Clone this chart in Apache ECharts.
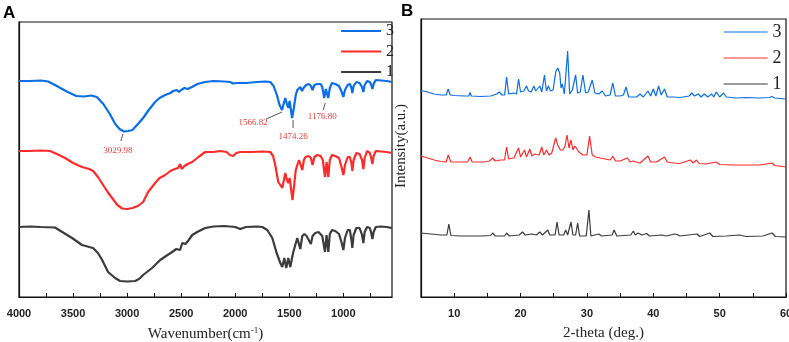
<!DOCTYPE html>
<html>
<head>
<meta charset="utf-8">
<script src="https://cdn.jsdelivr.net/npm/echarts@6/dist/echarts.min.js"></script>
<style>html,body{margin:0;padding:0;background:#fff}#c{width:789px;height:342px}</style>
</head>
<body>
<div id="c"></div>
<script>
// ---------- FTIR (panel A) : wavenumber (cm-1) and offset transmittance (a.u.) ----------
const ftirWn3 = [4000,3900,3800,3730,3650,3550,3470,3400,3330,3280,3220,3160,3110,3070,3030,2990,2950,2900,2852,2800,2741,2700,2648,2600,2575,2560,2540,2520,2500,2470,2440,2400,2350,2280,2200,2100,2046,2020,1990,1900,1800,1720,1676,1645,1615,1590,1567,1550,1537,1522,1509,1497,1488,1474,1458,1440,1426,1410,1398,1382,1368,1345,1320,1300,1285,1268,1240,1210,1195,1177,1162,1150,1140,1125,1105,1075,1040,1015,1000,985,960,940,925,917,905,880,850,827,815,803,780,755,742,731,720,700,650,600,550];
const ftirT3  = [216,216,216.5,215.5,211,205,201,200.5,201.5,200,193,183,173,168,165.5,166,167,173,179,187,195,199,202,204,206,204,207,205,207,209,208,210,213,215,216,215.5,215,213.5,214,214,215,215.5,215,211,202,192,187,194,199,193,189,196,195,179,189,202,207,209,210,206,209,212,213,211,207,212,213,213,210,199,208,207,199,209,214,213,211,205,200,207,212,213,209,204,211,215,214,210,205,212,216,215,212,208,213,217,216.5,216,215];

const ftirWn2 = [4000,3900,3800,3713,3650,3574,3500,3417,3350,3315,3270,3222,3180,3139,3090,3046,3000,2950,2900,2852,2806,2741,2700,2648,2600,2560,2528,2510,2495,2470,2440,2398,2340,2278,2200,2139,2080,2050,2019,1990,1954,1850,1750,1676,1650,1630,1602,1565,1550,1537,1522,1509,1497,1488,1470,1455,1440,1426,1410,1398,1380,1365,1350,1320,1300,1285,1268,1240,1210,1190,1170,1155,1150,1139,1125,1105,1075,1040,1015,1000,985,960,940,925,917,905,880,850,827,815,803,780,755,742,731,720,700,650,600,550];
const ftirT2  = [146,146,146.5,146,143,139,134,130,128,126,120,112,105,99,92,88.5,88,89,91,95,105,114,119,122,126,128,129,133,128,131,133,135,140,145,145,146,145,142,141,144,145,145,145.5,145,141,132,115,109,117,124,117,114,119,117,97,112,127,132,137,139,127,137,140,141,139,132,140,142,141,137,120,135,137,120,137,142,141,139,129,122,132,140,140,134,126,137,144,143,137,128,139,146,144,139,133,141,146,145.5,145,144];

const ftirWn1 = [4000,3900,3800,3667,3600,3509,3417,3350,3315,3270,3231,3176,3111,3065,3000,2926,2890,2852,2769,2694,2640,2583,2545,2528,2510,2490,2460,2430,2398,2352,2278,2200,2100,2000,1954,1900,1796,1750,1704,1657,1620,1583,1565,1546,1528,1509,1491,1463,1426,1410,1398,1380,1360,1340,1300,1285,1260,1230,1195,1170,1155,1150,1139,1125,1105,1075,1040,1015,1000,985,960,940,925,917,905,880,850,827,815,803,780,755,742,731,720,700,650,600,550];
const ftirT1  = [70,70.5,70,69.5,65,59,52,50,49,44,37,25,19,16,15.5,16,18,22,29,37,41,45,48,50,47,54,53,57,62,65,69,70.5,71,70,68,70,70.5,70,67,59,45,34,30,39,29,39,30,45,59,58,48,61,63,61,53,61,64,65,61,45,62,61,45,63,67,66,63,54,47,59,67,67,57,49,62,69,69,62,54,65,70,69,64,58,65,70,70.5,70,69];

// annotated peaks on curve 3
const peakWn = [3029.98, 1566.82, 1474.26, 1176.80];
const peakText = ['3029.98', '1566.82', '1474.26', '1176.80'];

// ---------- XRD (panel B) : 2-theta (deg.) and offset intensity (a.u.) ----------
const xrdTh3 = [5.0,6.0,7.0,8.0,8.8,9.1,9.4,9.7,10.0,11.5,12.2,12.4,12.6,14.0,15.5,16.4,16.8,17.2,17.6,17.9,18.2,19.0,19.4,19.7,20.0,20.5,20.9,21.2,21.6,22.0,22.3,22.6,22.9,23.2,23.6,23.9,24.2,24.5,24.9,25.3,25.6,25.9,26.1,26.3,26.6,27.1,27.4,27.8,28.3,28.6,29.0,29.4,29.8,30.2,30.8,31.2,31.8,32.3,32.8,33.5,33.9,34.3,35.0,35.5,35.9,36.3,37.5,38.0,38.5,39.2,39.6,40.0,40.4,40.8,41.2,41.7,42.1,43.0,44.0,45.4,45.8,46.2,46.8,47.2,47.7,48.2,48.8,49.1,49.5,50.0,50.6,51.0,52.5,54.0,56.0,57.5,57.9,58.3,60.0];
const xrdI3  = [206.5,205,203,202,202,208,202,204,201.5,201,201,204.5,201,200.5,201,203,205,202,202,220,203,204,203,218,205,206,211,206,205,211,206,205,211,205,222,206,211,206,207,225,229,224,209,213,203,246,203,207,222,204,205,222,204,205,217,204,203,206,201,202,214,201,201,202,210,200,200,203,200,206,201,208,201,211,202,208,200,200,199.5,201,204,201,203,200,203,200,203,200,205,200,204,200,199,199.5,199,199.5,200.5,199,198];

const xrdTh2 = [5.0,6.0,7.0,8.0,8.8,9.1,9.5,10.5,12.0,12.4,12.7,14.5,15.3,15.8,16.2,17.0,17.6,17.9,18.2,19.0,19.3,19.7,20.0,20.3,20.6,20.9,21.4,21.7,22.1,22.4,22.8,23.2,23.5,23.9,24.3,24.7,25.3,25.6,26.0,26.4,26.7,27.0,27.3,27.6,27.9,28.2,28.5,28.8,29.4,30.0,30.4,30.8,31.3,32.0,33.5,33.9,34.3,35.0,36.1,36.5,37.0,37.4,38.0,39.2,39.6,40.5,41.7,42.1,43.0,44.0,45.6,46.0,46.5,46.9,48.0,49.5,50.0,52.0,54.0,56.0,57.9,58.3,60.0];
const xrdI2  = [141,139,137,135.5,135,142,135,135,135,140,135,135,136,139,136,137,137,150,138,139,138,149,140,140,147,140,148,141,143,141,142,150,142,147,142,144,159,152,147,147,151,162,149,157,147,151,152,145,142,142,161,142,140,139,137,141,136,136,139,135,136,135,134,141,135,135,140,135,134,133.5,137,134,137,133.5,133,135,132.5,132,132,132,134,131.5,130];

const xrdTh1 = [5.0,6.5,8.0,8.9,9.2,9.5,11.0,14.0,15.5,15.8,16.2,17.6,17.9,18.3,19.8,20.3,20.7,21.7,22.0,22.4,22.9,23.3,24.1,24.4,25.2,25.5,25.8,26.5,26.8,27.1,27.6,27.9,28.3,28.6,28.9,29.9,30.3,30.6,31.8,32.2,33.8,34.1,34.5,36.6,37.0,37.3,37.7,38.0,38.3,39.0,39.4,41.3,42.0,43.2,43.6,44.0,46.6,47.0,48.5,49.0,51.0,53.0,54.0,56.5,57.9,58.4,60.0];
const xrdI1  = [64,63,62,62,73,61.5,61,61,61.5,64,61,61,64,61,62,65,62,63,64,62,65,62,67,62,62,75,62,62,67,62,75,62,62,74,61,61,87,61,63,61,62,67,61,62,66,62,64,65,62,63.5,61,62,61,63,62.5,61,63,60.5,64,60.5,61,62,60.5,61,64,60.5,60];

const seriesNames = ['3', '2', '1'];
const colors = {'3': '#0a6ee6', '2': '#ff2b2b', '1': '#3b3b3b'};

function pairs(xs, ys) { return xs.map((x, i) => [x, ys[i]]); }

const chart = echarts.init(document.getElementById('c'), null, {renderer: 'canvas'});
const serif = 'Liberation Serif';
const sans = 'Liberation Sans';

const baseX = {
  axisLine: {show: true, onZero: false, lineStyle: {color: '#111', width: 1.2}},
  axisTick: {show: true, inside: true, length: 4, lineStyle: {color: '#111', width: 1}},
  splitLine: {show: false},
  axisLabel: {fontFamily: sans, fontWeight: 'bold', fontSize: 11, color: '#222', margin: 11, hideOverlap: false,
              formatter: v => String(v)},
  nameLocation: 'middle',
  nameTextStyle: {fontFamily: serif, fontSize: 15, color: '#222'}
};
const baseY = {
  type: 'value',
  axisLine: {show: true, onZero: false, lineStyle: {color: '#111', width: 1.2}},
  axisTick: {show: false},
  axisLabel: {show: false},
  splitLine: {show: false}
};

function mkSeries(name, xi, data, width) {
  return {
    name: name, type: 'line', xAxisIndex: xi, yAxisIndex: xi,
    data: data, symbol: 'none', showSymbol: false, silent: true,
    lineStyle: {color: colors[name], width: width},
    itemStyle: {color: colors[name]}
  };
}

const option = {
  animation: false,
  backgroundColor: '#fff',
  title: [
    {text: 'A', left: 3, top: 5, padding: 0, textStyle: {fontFamily: sans, fontWeight: 'bold', fontSize: 17, color: '#000'}},
    {text: 'B', left: 401, top: 3, padding: 0, textStyle: {fontFamily: sans, fontWeight: 'bold', fontSize: 17, color: '#000'}}
  ],
  grid: [
    {left: 19, top: 22, width: 373, height: 275, show: true, borderColor: '#111', borderWidth: 1.2,
     backgroundColor: 'transparent', containLabel: false, outerBoundsMode: 'none'},
    {left: 421, top: 19, width: 365, height: 278, show: true, borderColor: '#111', borderWidth: 1.2,
     backgroundColor: 'transparent', containLabel: false, outerBoundsMode: 'none'}
  ],
  legend: [
    {data: seriesNames, orient: 'vertical', left: 340, top: 21, padding: 0,
     itemWidth: 40, itemHeight: 20, itemGap: 0.5, selectedMode: false,
     itemStyle: {opacity: 0}, lineStyle: {width: 2.2},
     textStyle: {fontFamily: serif, fontSize: 16, color: '#222', lineHeight: 20}},
    {data: seriesNames, orient: 'vertical', left: 723, top: 20, padding: 0,
     itemWidth: 44, itemHeight: 24, itemGap: 2, selectedMode: false,
     itemStyle: {opacity: 0}, lineStyle: {width: 1.2},
     textStyle: {fontFamily: serif, fontSize: 18, color: '#222', lineHeight: 24}}
  ],
  xAxis: [
    Object.assign({}, baseX, {
      type: 'value', gridIndex: 0, inverse: true, min: 550, max: 4000,
      axisLabel: Object.assign({}, baseX.axisLabel, {customValues: [4000, 3500, 3000, 2500, 2000, 1500, 1000]}),
      axisTick: Object.assign({}, baseX.axisTick, {customValues: [4000, 3750, 3500, 3250, 3000, 2750, 2500, 2250, 2000, 1750, 1500, 1250, 1000, 750]}),
      name: '{a|Wavenumber(cm}{s|-1}{a|)}', nameGap: 29,
      nameTextStyle: {fontFamily: serif, fontSize: 15, color: '#222',
        rich: {a: {fontFamily: serif, fontSize: 15, color: '#222', lineHeight: 16},
               s: {fontFamily: serif, fontSize: 9, color: '#222', verticalAlign: 'top', lineHeight: 16}}}
    }),
    Object.assign({}, baseX, {
      type: 'value', gridIndex: 1, min: 5, max: 60,
      axisLabel: Object.assign({}, baseX.axisLabel, {customValues: [10, 20, 30, 40, 50, 60]}),
      axisTick: Object.assign({}, baseX.axisTick, {customValues: [5, 10, 15, 20, 25, 30, 35, 40, 45, 50, 55, 60]}),
      name: '2-theta (deg.)', nameGap: 29
    })
  ],
  yAxis: [
    Object.assign({}, baseY, {gridIndex: 0, min: 0, max: 275}),
    Object.assign({}, baseY, {gridIndex: 1, min: 0, max: 278,
      name: 'Intensity(a.u.)', nameLocation: 'middle', nameRotate: 90, nameGap: 12,
      nameTextStyle: {fontFamily: serif, fontSize: 15, color: '#222', padding: [0, 0, 0, 24]}})
  ],
  series: [
    mkSeries('3', 0, pairs(ftirWn3, ftirT3), 2.2),
    mkSeries('2', 0, pairs(ftirWn2, ftirT2), 2.2),
    mkSeries('1', 0, pairs(ftirWn1, ftirT1), 2.2),
    mkSeries('3', 1, pairs(xrdTh3, xrdI3), 1.2),
    mkSeries('2', 1, pairs(xrdTh2, xrdI2), 1.2),
    mkSeries('1', 1, pairs(xrdTh1, xrdI1), 1.2)
  ]
};
chart.setOption(option);

// annotation leaders and labels, anchored on curve 3 via the axis scales
const leaderOffsets = [[[-1, 2.5], [-3, 9.5]], [[0, 2], [-16, 9]], [[1, 2], [1, 10]], [[1, 5], [-1, 12]]];
const textOffsets = [[-6, 19.5], [-29, 13], [1, 19], [-2, 19]];
const graphics = [];
peakWn.forEach((wn, k) => {
  let best = 0;
  ftirWn3.forEach((w, i) => { if (Math.abs(w - wn) < Math.abs(ftirWn3[best] - wn)) best = i; });
  const p = chart.convertToPixel({gridIndex: 0}, [wn, ftirT3[best]]);
  const lo = leaderOffsets[k];
  graphics.push({type: 'line', silent: true,
    shape: {x1: p[0] + lo[0][0], y1: p[1] + lo[0][1], x2: p[0] + lo[1][0], y2: p[1] + lo[1][1]},
    style: {stroke: '#555', lineWidth: 1}});
  graphics.push({type: 'text', silent: true, x: p[0] + textOffsets[k][0], y: p[1] + textOffsets[k][1],
    style: {text: peakText[k], fill: '#f23a3a', font: '9px "Liberation Serif"', align: 'center', verticalAlign: 'middle'}});
});
chart.setOption({graphic: graphics});
</script>
</body>
</html>
